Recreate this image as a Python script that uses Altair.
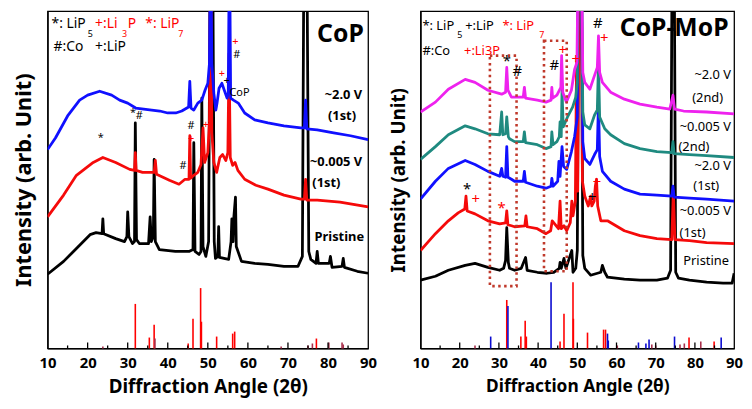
import altair as alt
import pandas as pd

FONT = "Noto Sans"
OFF = 420  # peaks that run off the top of the frame

# ---------------- CoP panel (2theta, intensity) ----------------
COP_2V_1ST = [(10, 201), (12, 213), (15, 235), (18, 251), (20, 256), (23, 260), (26, 256), (28, 251),
              (30, 248), (32, 243), (34, 242), (36, 241), (38, 240), (40, 238), (42, 238), (43.5, 240),
              (45.2, 244), (45.5, 270), (45.8, 243), (46.5, 241), (47.5, 248), (48.5, 251), (49.3, 261),
              (50.0, 268), (50.4, 288), (50.7, OFF), (51.0, 288), (51.5, 258), (52.0, 241), (52.3, 248),
              (52.8, 263), (53.5, 268), (54.2, 260), (54.8, 253), (55.1, 258), (55.4, OFF), (55.7, 253),
              (56.4, 251), (57.6, 248), (59.2, 238), (61.7, 231), (65, 228), (69, 225), (73.2, 223),
              (74.1, 223), (74.4, 251), (74.7, 222), (77.3, 221), (81.4, 218), (85.6, 215), (90, 211)]
COP_0005V_1ST = [(10, 133), (14, 155), (17.2, 175), (21.4, 188), (23.8, 193), (27, 188), (30.5, 181),
                 (31.7, 180), (31.9, 198), (32.1, 180), (33.7, 178), (36.6, 178), (36.9, 190), (37.2, 176),
                 (40.4, 170), (42.8, 166), (44.3, 171), (45.3, 171), (45.5, 215), (45.7, 172), (46.5, 175),
                 (47.5, 178), (48.3, 186), (48.8, 223), (49.2, 188), (50.0, 198), (50.4, 228), (50.7, OFF),
                 (51.0, 218), (51.5, 188), (52.2, 178), (53.0, 193), (53.7, 196), (54.5, 190), (55.0, 198),
                 (55.3, 298), (55.6, 193), (56.2, 185), (56.8, 188), (57.5, 180), (59.2, 171), (62, 165),
                 (65, 161), (69, 155), (73.2, 151), (74.1, 151), (74.4, 171), (74.7, 150), (77.3, 150),
                 (83, 148), (90, 143)]
COP_PRISTINE = [(10, 75), (14, 88), (17.2, 101), (20.6, 115), (22.1, 117), (23.6, 116), (23.8, 131),
                (24.0, 116), (27, 111), (29.2, 108), (29.8, 113), (30.0, 138), (30.3, 113), (31.2, 106),
                (31.7, 108), (31.9, 228), (32.2, 110), (32.9, 106), (35.2, 106), (35.6, 133), (35.9, 108),
                (36.4, 113), (36.6, 191), (36.9, 108), (37.9, 100), (41.9, 98), (45.3, 98), (46.3, 100),
                (46.5, 208), (46.8, 98), (47.8, 95), (48.3, 98), (48.5, 253), (48.8, 103), (49.5, 93),
                (50.2, 108), (50.6, OFF), (51.2, OFF), (51.6, 108), (51.9, 91), (52.5, 93), (52.7, 123),
                (52.9, 92), (55.2, 90), (55.8, 108), (56.0, 131), (56.3, 108), (56.5, 133), (56.9, 153),
                (57.1, 103), (58.4, 88), (61.7, 86), (65, 85), (69, 83), (72.5, 83), (73.6, 93),
                (74.0, OFF), (74.7, OFF), (75.2, 98), (75.7, 90), (77.0, 86), (77.3, 98), (77.6, 86),
                (80.3, 86), (80.6, 93), (81.0, 82), (83.5, 83), (83.8, 91), (84.1, 82), (87.3, 78), (90, 76)]
COP_REF_RED = [(31.9, 45), (35.4, 11), (36.6, 24), (45.1, 5), (46.3, 30), (48.2, 61), (48.4, 27),
               (52.2, 12), (56.2, 15), (56.7, 17), (77.1, 10)]
COP_REF_DARK = [(23.8, 2), (36.8, 10), (68.3, 2), (75.0, 3), (76.1, 5), (80.2, 6), (83.5, 6), (83.8, 4)]

COP_LEGEND = [(11.0, 328, "*: LiP", "black"), (21.85, 328, "+:Li", "red"), (30.0, 328, "P", "red"),
              (34.4, 328, "*: LiP", "red"), (11.5, 305, "#:Co", "black"), (21.85, 305, "+:LiP", "black")]
COP_LEGEND_SUB = [(20.0, 318, "5", "black"), (28.6, 318, "3", "red"), (42.6, 318, "7", "red")]
COP_LABELS = [(88.5, 256, "~2.0 V"), (87.0, 235, "(1st)"), (88.5, 188, "~0.005 V"),
              (83.1, 167, "(1st)"), (89.0, 113, "Pristine")]
COP_MARKS = [(56.9, 310, "+", "red"), (57.2, 297, "#", "black"), (53.5, 277, "+", "red"),
             (54.7, 270, "+", "black"), (57.9, 258, "CoP", "black"), (31.3, 238, "*", "black"),
             (32.9, 235, "#", "black"), (45.8, 225, "#", "black"), (45.8, 212, "+", "red"),
             (49.5, 226, "+", "red"), (23.3, 213, "*", "black"), (43.8, 184, "#", "black")]
COP_TITLE = [(83.1, 318, "CoP")]

# ---------------- CoP-MoP panel ----------------
CM_2V_2ND = [(10, 239), (13.8, 249), (17.1, 262), (21.4, 272), (23.9, 269), (27.2, 261), (30.7, 257),
             (31.7, 259), (32.0, 284), (32.3, 261), (33.2, 254), (34, 254), (36.2, 254), (36.5, 264),
             (36.8, 253), (39.8, 251), (42, 249), (43.3, 251), (43.5, 264), (43.7, 253), (44.8, 256),
             (45.8, 264), (46.0, 296), (46.3, 259), (47.2, 249), (48.5, 261), (49.3, 282), (49.9, 289),
             (50.3, OFF), (51.0, OFF), (51.4, 279), (51.9, 269), (53.2, 262), (54.4, 276), (55.1, 284),
             (55.4, 316), (55.7, 279), (56.4, 269), (58.5, 259), (62, 252), (66, 247), (70.3, 244),
             (73.6, 242), (74.4, 256), (74.8, 242), (77.1, 240), (83, 239), (90, 237)]
CM_0005V_2ND = [(10, 191), (13.8, 204), (17.1, 216), (21.4, 225), (23.9, 222), (27.2, 217), (30.2, 216),
                (30.7, 239), (31.0, 216), (31.7, 217), (32.0, 234), (32.4, 214), (32.7, 212), (34, 209),
                (36.2, 209), (36.5, 219), (36.8, 208), (39.8, 206), (42, 202), (43.3, 204), (43.5, 219),
                (43.8, 206), (44.8, 209), (45.4, 214), (45.6, 229), (45.9, 214), (46.1, 262), (46.4, 224),
                (47.5, 234), (48.8, 244), (49.6, 254), (50.0, 269), (50.3, OFF), (51.0, OFF), (51.4, 239),
                (51.9, 226), (53.2, 222), (54.4, 236), (55.1, 241), (55.4, 289), (55.7, 234), (57, 222),
                (58.5, 216), (62, 207), (66, 202), (70.3, 199), (74.1, 198), (74.4, 209), (74.7, 197),
                (78.6, 196), (83, 195), (90, 193)]
CM_2V_1ST = [(10, 151), (13.8, 169), (17.1, 182), (21.4, 190), (23.9, 186), (27.2, 179), (30.2, 174),
             (30.7, 182), (31.0, 174), (31.7, 173), (32.0, 204), (32.3, 173), (33.2, 171), (34, 169),
             (36.2, 169), (36.5, 179), (36.8, 168), (39.8, 164), (42, 162), (43.3, 164), (43.5, 172),
             (43.8, 164), (45.0, 169), (45.3, 189), (45.6, 174), (46.1, 204), (46.5, 184), (47.3, 181),
             (48.5, 199), (49.3, 214), (50.0, 234), (50.3, OFF), (51.0, OFF), (51.4, 209), (51.9, 192),
             (53.2, 186), (54.4, 196), (55.1, 201), (55.4, 249), (55.7, 194), (56.4, 179), (58.5, 169),
             (62, 161), (66, 156), (70.3, 155), (74.1, 154), (74.4, 164), (74.7, 153), (78.6, 152),
             (83, 151), (90, 149)]
CM_0005V_1ST = [(10, 99), (13.8, 116), (17.1, 129), (19.6, 137), (21.3, 141), (21.6, 154), (21.9, 139),
                (23.9, 136), (27.2, 129), (30.2, 126), (31.7, 127), (32.0, 139), (32.3, 125), (33.2, 124),
                (34, 123), (36.6, 124), (36.9, 134), (37.2, 123), (39.8, 121), (42, 116), (43.2, 119),
                (43.6, 129), (45.2, 121), (45.6, 149), (45.9, 121), (46.6, 124), (47.3, 119), (48.2, 127),
                (48.6, 149), (48.9, 134), (49.5, 149), (49.8, 289), (50.1, 159), (50.5, OFF), (51.0, OFF),
                (51.3, 169), (51.9, 154), (52.8, 144), (53.4, 154), (53.7, 144), (54.3, 149), (54.6, 164),
                (54.9, 171), (55.2, 144), (56, 129), (57.7, 129), (62, 119), (66, 114), (70.3, 111),
                (74.1, 110), (74.5, 159), (74.9, 110), (78.6, 109), (83, 107), (90, 106)]
CM_PRISTINE = [(10, 69), (13.8, 73), (17.1, 79), (21.4, 84), (23.9, 86), (27.2, 82), (30.2, 79),
               (31.2, 81), (31.7, 89), (32.0, 122), (32.4, 87), (32.7, 81), (34, 79), (35.7, 81),
               (36.8, 92), (37.2, 79), (39.8, 77), (42.3, 76), (44, 77), (45.4, 81), (45.6, 87),
               (45.9, 81), (46.6, 91), (47.1, 81), (48.6, 99), (48.9, 77), (49.6, 81), (50.0, 99),
               (50.4, OFF), (51.0, OFF), (51.4, 94), (51.9, 81), (53.4, 74), (56.0, 77), (56.4, 84),
               (57.0, 77), (57.7, 72), (62, 70), (66, 69), (70.3, 69), (73.0, 71), (73.8, 79),
               (74.2, OFF), (74.7, OFF), (75.1, 77), (75.8, 71), (78.6, 69), (83, 67), (87.2, 66),
               (89.5, 66), (90, 76)]
CM_REF_RED = [(32.0, 49), (35.6, 12), (36.7, 28), (37.0, 12), (45.6, 7), (46.6, 35), (48.9, 67),
              (49.0, 30), (52.6, 16), (56.7, 19), (57.2, 19), (78.5, 11), (84.9, 7)]
CM_REF_BLUE = [(27.9, 12), (32.3, 43), (43.3, 67), (57.7, 15), (57.9, 8), (65.6, 6), (67.5, 5),
               (68.3, 9), (74.8, 12), (86.7, 11)]
CM_REF_DARK = [(23.9, 3), (60.2, 3), (69.0, 4), (70.0, 3), (76.2, 4), (77.3, 5), (81.5, 7)]

CM_LEGEND = [(10.5, 326, "*: LiP", "black"), (21.4, 326, "+:LiP", "black"), (30.9, 326, "*: LiP", "red"),
             (10.5, 301, "#:Co", "black"), (21.1, 301, "+:Li3P", "red")]
CM_LEGEND_SUB = [(19.4, 317, "5", "black"), (40.3, 317, "7", "red")]
CM_LABELS = [(89.2, 276, "~2.0 V"), (87.2, 253, "(2nd)"), (89.2, 224, "~0.005 V"), (83.7, 204, "(2nd)"),
             (89.2, 184, "~2.0 V"), (86.2, 164, "(1st)"), (89.2, 139, "~0.005 V"), (82.7, 117, "(1st)"),
             (88.7, 88, "Pristine")]
CM_MARKS = [(32.0, 291, "*", "black"), (34.7, 280, "#", "black"), (44.1, 286, "#", "black"),
            (46.3, 302, "+", "red"), (49.6, 293, "+", "red"), (55.2, 329, "#", "black"),
            (56.9, 314, "+", "red"), (55.0, 168, "+", "red"), (53.8, 153, "+", "black"),
            (21.9, 161, "*", "black"), (24.1, 151, "+", "red"), (30.7, 142, "*", "red")]
CM_TITLE = [(74.7, 324, "CoP-MoP")]
CM_BOXES = [(27.7, 34.5, 63, 296), (41.5, 47.3, 78, 311)]

TICKS = [(a, 6 if a % 10 == 0 else 3) for a in range(15, 90, 5)]


def trace_df(pairs, name):
    return pd.DataFrame({"angle": [p[0] for p in pairs], "I": [p[1] for p in pairs],
                         "series": name, "ord": list(range(len(pairs)))})


def text_df(rows):
    return pd.DataFrame({"angle": [r[0] for r in rows], "I": [r[1] for r in rows],
                         "text": [r[2] for r in rows],
                         "color": [r[3] if len(r) > 3 else "black" for r in rows]})


def stick_df(rows, color):
    return pd.DataFrame({"angle": [r[0] for r in rows], "h": [r[1] for r in rows],
                         "zero": 0, "color": color})


def panel(traces, sticks, legend, legend_sub, labels, marks, title, boxes, width, height,
          ytitle_size, xtitle_size, label_bold, title_size, mark_size, legend_size):
    xs = alt.Scale(domain=[10, 90], nice=False, zero=False)
    ys = alt.Scale(domain=[0, height], nice=False, zero=False)
    xaxis = alt.Axis(values=list(range(10, 91, 10)), title="Diffraction Angle (2θ)", grid=False,
                     ticks=False, labelFlush=False, labelOverlap=False, labelFont=FONT,
                     labelFontSize=15, labelFontWeight="bold", labelColor="black", labelPadding=7,
                     titleFont=FONT, titleFontSize=xtitle_size, titleFontWeight="bold",
                     titleColor="black", titlePadding=8, domainColor="black", domainWidth=1.3)
    yaxis = alt.Axis(labels=False, ticks=False, grid=False, title="Intensity (arb. Unit)",
                     titleFont=FONT, titleFontSize=ytitle_size, titleFontWeight="bold",
                     titleColor="black", titlePadding=12, domainColor="black", domainWidth=1.3)

    def X(f="angle"):
        return alt.X(f"{f}:Q", scale=xs, axis=xaxis)

    def Y(f="I"):
        return alt.Y(f"{f}:Q", scale=ys, axis=yaxis)

    df = pd.concat([trace_df(t[0], t[1]).assign(col=t[2]) for t in traces], ignore_index=True)
    lines = alt.Chart(df).mark_line(clip=True, strokeWidth=2.8, strokeJoin="round").encode(
        x=X(), y=Y(), order="ord:Q", detail="series:N",
        color=alt.Color("col:N", scale=None))

    sdf = pd.concat([stick_df(s[0], s[1]) for s in sticks], ignore_index=True)
    stk = alt.Chart(sdf).mark_rule(strokeWidth=1.6).encode(
        x=X(), y=Y("zero"), y2="h:Q", color=alt.Color("color:N", scale=None))

    tdf = pd.DataFrame({"angle": [t[0] for t in TICKS], "zero": 0, "len": [t[1] for t in TICKS]})
    tks = alt.Chart(tdf).mark_rule(color="black", strokeWidth=1.3).encode(x=X(), y=Y("zero"), y2="len:Q")

    layers = [stk, tks, lines]

    if boxes:
        bdf = pd.DataFrame({"a0": [b[0] for b in boxes], "a1": [b[1] for b in boxes],
                            "i0": [b[2] for b in boxes], "i1": [b[3] for b in boxes]})
        layers.append(alt.Chart(bdf).mark_rect(fillOpacity=0, stroke="#c0392b", strokeWidth=2.6,
                                               strokeDash=[2.5, 3.5]).encode(
            x=X("a0"), x2="a1:Q", y=Y("i0"), y2="i1:Q"))

    def txt(rows, **kw):
        return alt.Chart(text_df(rows)).mark_text(font=FONT, baseline="middle", **kw).encode(
            x=X(), y=Y(), text="text:N", color=alt.Color("color:N", scale=None))

    layers.append(txt(legend, align="left", fontSize=legend_size))
    layers.append(txt(legend_sub, align="left", fontSize=9))
    layers.append(txt([(l[0], l[1], l[2], "black") for l in labels], align="right", fontSize=13,
                      fontWeight="bold" if label_bold else "normal"))
    layers.append(txt(marks, align="center", fontSize=mark_size))
    layers.append(txt([(t[0], t[1], t[2], "black") for t in title], align="center",
                      fontSize=title_size, fontWeight="bold"))
    return alt.layer(*layers).properties(width=width, height=height)


left = panel(
    traces=[(COP_PRISTINE, "cop_pristine", "black"), (COP_0005V_1ST, "cop_0005_1", "#f50a0a"),
            (COP_2V_1ST, "cop_2v_1", "#1010ff")],
    sticks=[(COP_REF_RED, "#ff0000"), (COP_REF_DARK, "#a8304c")],
    legend=COP_LEGEND, legend_sub=COP_LEGEND_SUB, labels=COP_LABELS, marks=COP_MARKS,
    title=COP_TITLE, boxes=None, width=324, height=341, ytitle_size=22, xtitle_size=19,
    label_bold=True, title_size=25, mark_size=11, legend_size=14)

right = panel(
    traces=[(CM_PRISTINE, "cm_pristine", "black"), (CM_0005V_1ST, "cm_0005_1", "#f50a0a"),
            (CM_2V_1ST, "cm_2v_1", "#1010ff"), (CM_0005V_2ND, "cm_0005_2", "#1f8a80"),
            (CM_2V_2ND, "cm_2v_2", "#ee22ee")],
    sticks=[(CM_REF_RED, "#ff0000"), (CM_REF_BLUE, "#0a0ad0"), (CM_REF_DARK, "#a8304c")],
    legend=CM_LEGEND, legend_sub=CM_LEGEND_SUB, labels=CM_LABELS, marks=CM_MARKS,
    title=CM_TITLE, boxes=CM_BOXES, width=317, height=341, ytitle_size=19, xtitle_size=17.5,
    label_bold=False, title_size=25, mark_size=15, legend_size=13)

chart = alt.hconcat(left, right, spacing=53, bounds="flush").properties(
    padding={"left": 4, "top": 0, "right": 0, "bottom": 0}
).configure_view(stroke="black", strokeWidth=1.3)

chart.save("out.html", embed_options={"renderer": "svg", "actions": False})
